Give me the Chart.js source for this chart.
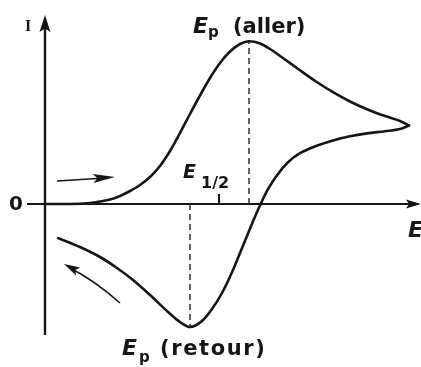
<!DOCTYPE html>
<html>
<head>
<meta charset="utf-8">
<script src="https://cdn.jsdelivr.net/npm/chart.js@4"></script>
<style>
  html, body { margin: 0; padding: 0; background: #fff; }
  #wrap { width: 421px; height: 367px; position: relative; }
</style>
</head>
<body>
<div id="wrap"><canvas id="cv"></canvas></div>
<script>
// Voltampérogramme cyclique : balayage aller puis retour (unités arbitraires)
const allerE = [0, 2.5, 4.5, 5.5, 6.5, 7.5, 8.5, 9.5, 10.5, 11.5, 12.5, 13.5, 14.5, 15.5, 16.5, 17.5, 18.5, 19.5, 20.4,
  21.5, 22.5, 24.0, 25.5, 27.1, 28.8, 30.5, 32.2, 34.0, 35.5, 36.4];
const allerI = [0, 0, 0.1, 0.25, 0.45, 0.8, 1.3, 1.9, 2.7, 3.8, 5.3, 7.1, 9.0, 10.85, 12.6, 14.1, 15.25, 16.0, 16.27,
  16.05, 15.5, 14.45, 13.37, 12.25, 11.18, 10.25, 9.47, 8.79, 8.3, 7.85];
const retourE = [36.4, 35.5, 34.0, 32.2, 30.5, 28.8, 27.1, 25.5, 24.3, 23.2, 22.3, 21.6, 20.9, 20.2, 19.5, 18.8,
  17.7, 16.7, 15.7, 14.5, 13.5, 12.2, 10.5, 8.8, 7.2, 5.5, 3.5, 1.3];
const retourI = [7.85, 7.5, 7.28, 7.06, 6.77, 6.36, 5.8, 5.08, 4.18, 2.88, 1.48, 0.08, -1.5, -3.2, -4.9, -6.6,
  -8.9, -10.5, -11.7, -12.3, -11.8, -10.7, -9.1, -7.6, -6.4, -5.3, -4.3, -3.4];

// potentiels et courants de pic, demi-vague
const EP_ALLER = 20.4, IP_ALLER = 16.27;
const EP_RETOUR = 14.5, IP_RETOUR = -12.3;
const E_DEMI = 17.4;

const pts = (xs, ys) => xs.map((e, i) => ({ x: e, y: ys[i] }));

const INK = '#161616';

function arrowHead(ctx, x, y, ang, len, half){
  ctx.save();
  ctx.translate(x, y);
  ctx.rotate(ang);
  ctx.beginPath();
  ctx.moveTo(0, 0);
  ctx.lineTo(-len, -half);
  ctx.lineTo(-len * 0.8, 0);
  ctx.lineTo(-len, half);
  ctx.closePath();
  ctx.fill();
  ctx.restore();
}

// axes, flèches de sens de balayage
const axesPlugin = {
  id: 'axes',
  beforeDatasetsDraw(chart){
    const { ctx, scales: { x, y } } = chart;
    const X = v => x.getPixelForValue(v), Y = v => y.getPixelForValue(v);
    ctx.save();
    ctx.strokeStyle = INK; ctx.fillStyle = INK;
    // axe E
    ctx.lineWidth = 2;
    ctx.beginPath(); ctx.moveTo(X(-1.8), Y(0)); ctx.lineTo(X(37.0), Y(0)); ctx.stroke();
    arrowHead(ctx, X(37.6), Y(0), 0, 15, 4.5);
    // axe I
    ctx.lineWidth = 2.4;
    ctx.beginPath(); ctx.moveTo(X(0), Y(-13.1)); ctx.lineTo(X(0), Y(18.3)); ctx.stroke();
    arrowHead(ctx, X(0), Y(18.9), -Math.PI / 2, 17, 5.5);
    // repère E1/2
    ctx.lineWidth = 2;
    ctx.beginPath(); ctx.moveTo(X(E_DEMI), Y(0)); ctx.lineTo(X(E_DEMI), Y(1.0)); ctx.stroke();

    // flèche aller
    ctx.lineWidth = 1.6;
    ctx.beginPath(); ctx.moveTo(X(1.2), Y(2.3)); ctx.lineTo(X(6.0), Y(2.6)); ctx.stroke();
    arrowHead(ctx, X(7.0), Y(2.7), Math.atan2(Y(2.7) - Y(2.3), X(7.0) - X(1.2)), 22, 4.5);
    // flèche retour (légèrement courbe)
    const tx = X(7.5), ty = Y(-9.9), hx = X(1.9), hy = Y(-6.0);
    const cx = X(4.9), cy = Y(-7.6);
    ctx.beginPath(); ctx.moveTo(tx, ty); ctx.quadraticCurveTo(cx, cy, hx + 6, hy + 4); ctx.stroke();
    arrowHead(ctx, hx, hy, Math.atan2(hy - cy, hx - cx), 16, 4.5);
    ctx.restore();
  },
  afterDraw(chart){
    const { ctx, scales: { x, y } } = chart;
    const X = v => x.getPixelForValue(v), Y = v => y.getPixelForValue(v);
    ctx.save();
    ctx.fillStyle = INK;
    ctx.textBaseline = 'alphabetic';
    ctx.textAlign = 'left';
    const ital = s => 'italic bold ' + s + 'px "DejaVu Sans", sans-serif';
    const bold = s => 'bold ' + s + 'px "DejaVu Sans", sans-serif';

    // Ep (aller)
    ctx.font = ital(22); ctx.fillText('E', X(14.8), Y(17.1));
    ctx.font = bold(15); ctx.fillText('p', X(16.3), Y(16.7));
    ctx.font = bold(21); ctx.fillText('(aller)', X(18.8), Y(17.1));

    // Ep (retour)
    ctx.font = ital(22); ctx.fillText('E', X(7.7), Y(-15.1));
    ctx.font = bold(15); ctx.fillText('p', X(9.4), Y(-15.8));
    ctx.font = bold(21); ctx.letterSpacing = '1.6px';
    ctx.fillText('(retour)', X(11.5), Y(-15.1));
    ctx.letterSpacing = '0px';

    // E1/2
    ctx.font = ital(19); ctx.fillText('E', X(13.8), Y(2.6));
    ctx.font = bold(16); ctx.fillText('1/2', X(15.6), Y(1.6));

    // 0, I, E
    ctx.font = bold(20); ctx.textAlign = 'center'; ctx.textBaseline = 'middle';
    ctx.fillText('0', X(-2.9), Y(-0.1));
    ctx.font = 'bold 16px "Liberation Serif", serif';
    ctx.fillText('I', X(-1.7), Y(17.7));
    ctx.textAlign = 'left'; ctx.textBaseline = 'alphabetic';
    ctx.font = ital(22); ctx.fillText('E', X(36.3), Y(-3.3));
    ctx.restore();
  }
};

const curve = { showLine: true, borderColor: INK, borderWidth: 2.6, cubicInterpolationMode: 'monotone',
  pointRadius: 0, fill: false, borderJoinStyle: 'round', borderCapStyle: 'round' };
const dashed = { showLine: true, borderColor: '#333', borderWidth: 1.5, borderDash: [6, 4], pointRadius: 0 };

new Chart(document.getElementById('cv'), {
  type: 'scatter',
  data: {
    datasets: [
      Object.assign({ data: pts(allerE, allerI) }, curve),
      Object.assign({ data: pts(retourE, retourI) }, curve),
      Object.assign({ data: [{ x: EP_ALLER, y: 0 }, { x: EP_ALLER, y: IP_ALLER }] }, dashed),
      Object.assign({ data: [{ x: EP_RETOUR, y: 0 }, { x: EP_RETOUR, y: IP_RETOUR }] }, dashed)
    ]
  },
  options: {
    responsive: true,
    maintainAspectRatio: false,
    animation: false,
    layout: { padding: 0 },
    plugins: { legend: { display: false }, tooltip: { enabled: false } },
    scales: {
      x: { type: 'linear', min: -4.5, max: 37.6, display: false },
      y: { type: 'linear', min: -16.3, max: 20.4, display: false }
    }
  },
  plugins: [axesPlugin]
});
</script>
</body>
</html>
